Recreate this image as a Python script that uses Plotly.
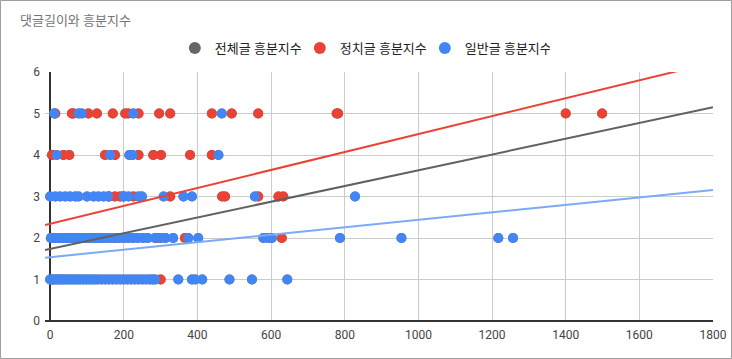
import plotly.graph_objects as go

# ---- data (x = comment length, y = excitement index) ----
blue_y5 = [11, 77, 86, 226, 466]
blue_y4 = [18, 163, 215, 224, 457]
blue_y3 = [0, 14, 27, 41, 54, 68, 77, 100, 118, 131, 145, 158, 199, 213, 240, 249, 308, 362, 385, 556, 828]
blue_y2 = [2, 8, 14, 20, 26, 32, 38, 45, 52, 60, 68, 76, 84, 92, 100, 110, 120, 130, 140, 150, 162, 175,
           188, 200, 212, 225, 238, 252, 265, 285, 300, 313, 334, 375, 402, 579, 592, 602, 787, 954, 1217, 1257]
blue_y1 = [0, 5, 10, 16, 22, 28, 34, 40, 47, 54, 61, 68, 75, 82, 90, 98, 106, 114, 122, 130, 140, 150, 160,
           170, 180, 190, 200, 210, 220, 230, 240, 250, 260, 270, 278, 285, 348, 385, 394, 413, 487, 548, 644]

red_y5 = [14, 59, 63, 104, 127, 170, 204, 212, 240, 296, 326, 439, 493, 565, 778, 782, 1400, 1499]
red_y4 = [5, 36, 52, 149, 176, 240, 280, 301, 380, 439]
red_y3 = [160, 176, 190, 200, 226, 326, 467, 475, 565, 620, 633]
red_y2 = [175, 290, 366, 629]
red_y1 = [300]

# trendline coefficients (intercept, slope)
trend_all = (1.737, 0.001896)
trend_pol = (2.343, 0.00216)
trend_gen = (1.538, 0.0009)

series_names = ["전체글 흥분지수", "정치글 흥분지수", "일반글 흥분지수"]
x_ticks = [0, 200, 400, 600, 800, 1000, 1200, 1400, 1600, 1800]
y_ticks = [0, 1, 2, 3, 4, 5, 6]


def flatten(groups):
    xs, ys = [], []
    for yv, arr in groups:
        xs += arr
        ys += [yv] * len(arr)
    return xs, ys


bx, by = flatten([(5, blue_y5), (4, blue_y4), (3, blue_y3), (2, blue_y2), (1, blue_y1)])
rx, ry = flatten([(5, red_y5), (4, red_y4), (3, red_y3), (2, red_y2), (1, red_y1)])
ax, ay = rx + bx, ry + by

GRAY, RED, BLUE, BLUE_T = "#666666", "#ea4335", "#4285f4", "#7baaf7"
X0, X1 = -14, 1800

fig = go.Figure()
for name, xs, ys, col in [(series_names[0], ax, ay, GRAY),
                          (series_names[1], rx, ry, RED),
                          (series_names[2], bx, by, BLUE)]:
    fig.add_trace(go.Scatter(x=xs, y=ys, mode="markers", name=name,
                             marker=dict(color=col, size=10, line=dict(width=0))))

for (b0, m), col in [(trend_all, "#616161"), (trend_pol, RED), (trend_gen, BLUE_T)]:
    fig.add_trace(go.Scatter(x=[X0, X1], y=[b0 + m * X0, b0 + m * X1], mode="lines",
                             line=dict(color=col, width=2), showlegend=False, hoverinfo="skip"))

W, H = 732, 359
ml, mr, mt, mb = 45, 19, 72, 38
pw, ph = W - ml - mr, H - mt - mb

fig.update_layout(
    width=W, height=H,
    margin=dict(l=ml, r=mr, t=mt, b=mb, autoexpand=False),
    paper_bgcolor="white", plot_bgcolor="white",
    font=dict(family="Roboto, 'Noto Sans CJK KR', sans-serif", size=12, color="#444444"),
    title=dict(text="댓글길이와 흥분지수", x=20 / W, xref="container", xanchor="left",
               y=1 - 20 / H, yref="container", yanchor="middle",
               font=dict(size=13, color="#757575")),
    legend=dict(orientation="h", x=0.495, xref="container", xanchor="center",
                y=1 - 48 / H, yref="container", yanchor="middle",
                font=dict(size=13, color="#222222"), itemsizing="constant",
                itemwidth=30, tracegroupgap=0, entrywidth=80, entrywidthmode="pixels"),
    xaxis=dict(range=[X0, X1], tickvals=x_ticks, showgrid=True, gridcolor="#cccccc",
               zeroline=True, zerolinecolor="#333333", zerolinewidth=1.5, automargin=False,
               showline=False, ticks="", ticklabelstandoff=5, tickfont=dict(size=12, color="#444444")),
    yaxis=dict(range=[0, 6], tickvals=y_ticks, showgrid=True, gridcolor="#cccccc",
               zeroline=True, zerolinecolor="#333333", zerolinewidth=1.5, automargin=False,
               showline=False, ticks="", ticklabelstandoff=4, tickfont=dict(size=12, color="#444444")),
    shapes=[dict(type="rect", xref="paper", yref="paper",
                 x0=(0.5 - ml) / pw, x1=(W - 0.5 - ml) / pw,
                 y0=(H - mb - (H - 0.5)) / ph, y1=(H - mb - 0.5) / ph,
                 line=dict(color="#9e9e9e", width=1), fillcolor="rgba(0,0,0,0)", layer="above")],
    showlegend=True,
)

fig.write_html("out.html", config={"displayModeBar": False},
               post_script="document.body.style.margin='0';document.body.style.overflow='hidden';")
